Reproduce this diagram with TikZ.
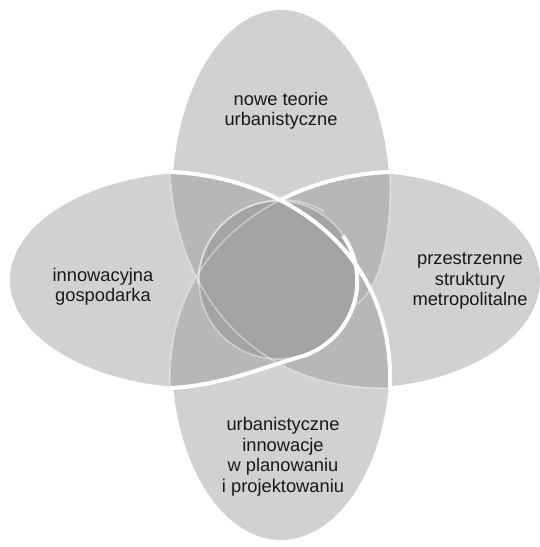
\documentclass[tikz,border=0pt]{standalone}
\usepackage{fontspec}
\setmainfont{Liberation Sans}
\usetikzlibrary{shapes.geometric}
\definecolor{petalgray}{HTML}{D1D1D1}
\definecolor{lensgray}{HTML}{B3B3B3}
\definecolor{coregray}{HTML}{A2A2A2}

\begin{document}
\begin{tikzpicture}[x=1pt,y=-1pt,
 petal/.style={ellipse,fill=petalgray,inner sep=0pt,outer sep=0pt},
 lens/.style={fill=lensgray,fill opacity=0.85},
 rim/.style={white,line width=4pt},
 ghost/.style={white,line width=1.6pt,opacity=0.4},
 lbl/.style={font=\fontsize{18.3}{20.5}\selectfont,align=center,text=black!90}]
\useasboundingbox (0,0) rectangle (540,547);
% four petals
\node[petal,minimum width=218,minimum height=380] (ptop) at (281,200) {};
\node[petal,minimum width=218,minimum height=360] (pbottom) at (281,360) {};
\node[petal,minimum width=384,minimum height=216] (pleft) at (202,280) {};
\node[petal,minimum width=364,minimum height=216] (pright) at (358,280) {};
% corners of the middle square
\coordinate (tl) at (170,172);
\coordinate (tr) at (390,172);
\coordinate (bl) at (170,388);
\coordinate (br) at (390,388);
% the two lenses
\fill[lens] (tl) .. controls (270,175) and (395,240) .. (br)
  .. controls (238,392) and (173,272) .. (tl);
\fill[lens] (tr) .. controls (290,175) and (165,240) .. (bl)
  .. controls (220,386) and (264,367) .. (298.7,357.3) arc[start angle=75,end angle=20,radius=79]
  .. controls (385,290) and (392,220) .. (tr);
\node[circle,minimum size=158,inner sep=0pt,fill=coregray,fill opacity=0.9] (core) at (278,280) {};
% faint rims
\draw[ghost] (br) .. controls (238,392) and (173,272) .. (tl);
\draw[ghost] (tr) .. controls (290,175) and (165,240) .. (bl);
\draw[ghost] (core.center) ++(20:79) .. controls (385,290) and (392,220) .. (tr);
\draw[ghost] (core.center) circle[radius=79];
\draw[ghost] (282,284) ++(180:84) arc[start angle=180,end angle=300,radius=84];
% white rims
\draw[rim] (tl) .. controls (270,175) and (395,240) .. (br);
\begin{scope}
\clip (280,150) rectangle (400,200);
\draw[rim] (tr) .. controls (290,175) and (165,240) .. (bl);
\end{scope}
\draw[rim] (bl) .. controls (220,386) and (264,367) .. (298.7,357.3)
  arc[start angle=75,end angle=-35,radius=79];
% labels
\node[lbl] (ltop) at (281,111) {nowe teorie\\urbanistyczne};
\node[lbl] (lleft) at (103,287) {innowacyjna\\gospodarka};
\node[lbl] (lright) at (470,281) {przestrzenne\\struktury\\metropolitalne};
\node[lbl] (lbottom) at (283,457) {urbanistyczne\\innowacje\\w planowaniu\\i projektowaniu};
\end{tikzpicture}
\end{document}
